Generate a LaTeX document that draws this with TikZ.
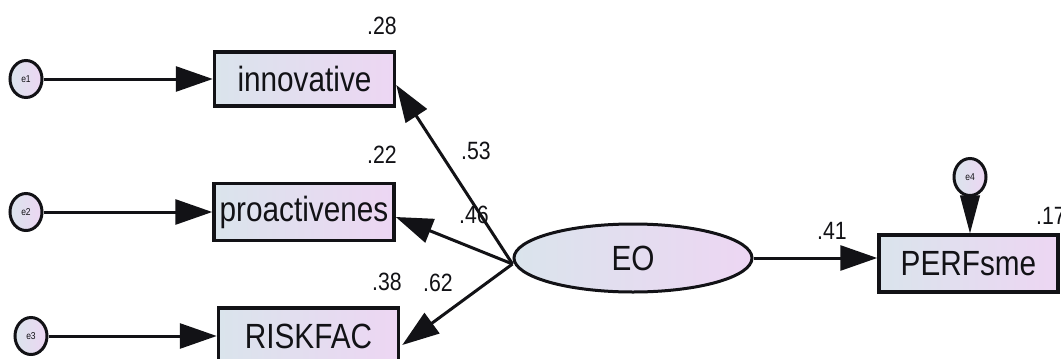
\documentclass[tikz,border=0pt]{standalone}
\usepackage{fontspec}
\setmainfont[FakeStretch=0.85]{Liberation Sans}
\usetikzlibrary{arrows.meta,shapes.geometric}
\definecolor{fillL}{RGB}{218,228,236}
\definecolor{fillR}{RGB}{237,214,243}
\definecolor{ink}{RGB}{18,18,22}
\begin{document}
\begin{tikzpicture}[x=1pt,y=-1pt,
  obs/.style={draw=ink, line width=3.5pt, left color=fillL, right color=fillR,
    minimum width=180pt, minimum height=54pt, inner sep=0pt,
    font=\fontsize{35}{40}\selectfont, text=ink},
  err/.style={ellipse, draw=ink, line width=3pt, left color=fillL, right color=fillR,
    minimum width=32pt, minimum height=37pt, inner sep=0pt,
    font=\fontsize{10}{12}\selectfont, text=ink},
  lat/.style={ellipse, draw=ink, line width=3pt, left color=fillL, right color=fillR,
    minimum width=238pt, minimum height=68pt, inner sep=0pt,
    font=\fontsize{35}{40}\selectfont, text=ink},
  lbl/.style={font=\fontsize{25}{28}\selectfont, text=ink, inner sep=0pt},
  path/.style={draw=ink, line width=3pt, -{Triangle[length=37pt,width=25pt]}}
]
\fill[white] (0,0) rectangle (1061,359);
\useasboundingbox (0,0) rectangle (1061,359);

% observed indicators
\node[obs] (innov) at (304.5,79) {innovative};
\node[obs, minimum height=57pt] (proact) at (304,212) {proactivenes};
\node[obs, minimum height=56pt] (risk) at (308.5,336) {RISKFAC};
\node[obs, minimum width=179pt, minimum height=57pt] (perf) at (968.5,263.5) {PERFsme};

% latent factor
\node[lat] (EO) at (633,258) {EO};

% error terms
\node[err] (e1) at (26,79) {e1};
\node[err] (e2) at (26,212) {e2};
\node[err] (e3) at (31,336) {e3};
\node[err] (e4) at (970,177) {e4};

% error paths
\draw[path] (e1) -- (innov);
\draw[path] (e2) -- (proact);
\draw[path] (e3) -- (risk);
\draw[draw=ink, line width=1pt, -{Triangle[length=38pt,width=20pt]}] (e4.south) -- (perf.north -| e4.south);

% loadings
\coordinate (hub) at ([yshift=-6pt]EO.west);
\draw[path] (hub) -- ([yshift=-6pt]innov.east);
\draw[path] (hub) -- ([yshift=-5pt]proact.east);
\draw[path] (hub) -- ([yshift=-9pt,xshift=2pt]risk.east);
\draw[path] (EO.east) -- (EO.east -| perf.west);

% estimates
\node[lbl] (r28) at (382,26) {.28};
\node[lbl] (r22) at (382,155) {.22};
\node[lbl] (r38) at (387,282) {.38};
\node[lbl] (w62) at (438,283) {.62};
\node[lbl] (w53) at (476,151) {.53};
\node[lbl] (w46) at (474,215) {.46};
\node[lbl] (w41) at (832,231) {.41};
\node[lbl] (r17) at (1051,216) {.17};
\end{tikzpicture}
\end{document}
